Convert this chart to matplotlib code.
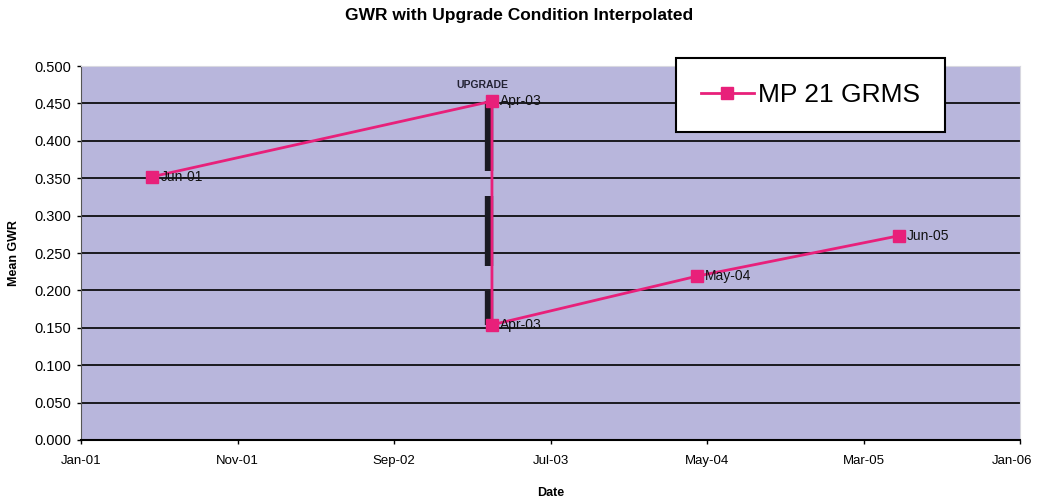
import matplotlib
matplotlib.use("Agg")
import matplotlib.pyplot as plt
import matplotlib.dates as mdates
import matplotlib.transforms as mtransforms
import numpy as np

# data
dates = np.array(["2001-05-19", "2003-03-10", "2003-03-10", "2004-04-11", "2005-05-08"],
                 dtype="datetime64[D]")
gwr = [0.352, 0.453, 0.154, 0.219, 0.273]
point_labels = ["Jun-01", "Apr-03", "Apr-03", "May-04", "Jun-05"]
series_name = "MP 21 GRMS"
upgrade_date = np.datetime64("2003-03-04")
upgrade_range = (0.453, 0.154)
x_tick_labels = ["Jan-01", "Nov-01", "Sep-02", "Jul-03", "May-04", "Mar-05", "Jan-06"]
y_ticks = np.arange(0, 0.501, 0.05)

plt.rcParams["font.family"] = ["Liberation Sans", "DejaVu Sans"]

pink = "#e8207a"
bg = "#b8b6dc"

fig = plt.figure(figsize=(10.39, 5.04), dpi=100)
ax = fig.add_axes([0.078, 0.127, 0.904, 0.742])
ax.set_facecolor(bg)

start = np.datetime64("2001-01-01")
x_ticks = start + np.arange(7) * 304
ax.set_xlim(mdates.date2num(x_ticks[0]), mdates.date2num(x_ticks[-1]))
ax.set_ylim(0, 0.5)

for y in y_ticks[1:-1]:
    ax.axhline(y, color="black", lw=1.2, zorder=1)

# upgrade marker bar
ux = mdates.date2num(upgrade_date)
bar, = ax.plot([ux, ux], upgrade_range, color="#1a1a22", lw=6, zorder=2,
               solid_capstyle="butt", dash_capstyle="butt")
bar.set_dashes((8.4, 3.0))
ax.text(ux - 12, 0.468, "UPGRADE", ha="center", va="bottom", fontsize=7.5,
        fontweight="bold", color="#222233")

xn = mdates.date2num(dates)
ax.plot(xn, gwr, color=pink, lw=2, marker="s", markersize=8,
        markerfacecolor=pink, markeredgecolor=pink, zorder=3, label=series_name)
for x, y, lab in zip(xn, gwr, point_labels):
    ax.annotate(lab, (x, y), xytext=(6, 0), textcoords="offset points",
                ha="left", va="center", fontsize=10, color="#111111", zorder=4)

ax.set_xticks(mdates.date2num(x_ticks))
ax.set_xticklabels(x_tick_labels, fontsize=9.5)
ax.set_yticks(y_ticks)
ax.set_yticklabels([f"{v:.3f}" for v in y_ticks], fontsize=10.5)
ax.tick_params(direction="out", length=3, width=1, pad=4)
ax.tick_params(axis="x", pad=8)
# keep the last date label inside the picture
last = ax.get_xticklabels()[-1]
last.set_transform(last.get_transform() +
                   mtransforms.ScaledTranslation(-6 / 72, 0, fig.dpi_scale_trans))

for side in ["top", "right"]:
    ax.spines[side].set_color("#d8d8e0")
    ax.spines[side].set_linewidth(0.8)
ax.spines["left"].set_color("#555555")
ax.spines["bottom"].set_color("black")
ax.spines["bottom"].set_linewidth(1.5)

ax.set_xlabel("Date", fontsize=9, fontweight="bold", labelpad=14)
ax.set_ylabel("Mean GWR", fontsize=9, fontweight="bold", labelpad=10)
fig.suptitle("GWR with Upgrade Condition Interpolated", y=0.985, fontsize=12.5,
             fontweight="bold")

leg = fig.legend(loc="center", bbox_to_anchor=(0.78, 0.8115), fontsize=19,
                 frameon=True, fancybox=False, edgecolor="black",
                 handlelength=2.0, handletextpad=0.15, borderpad=0.95,
                 borderaxespad=0)
leg.get_frame().set_linewidth(1.5)
leg.get_frame().set_alpha(1)

fig.savefig("out.png", dpi=100)
